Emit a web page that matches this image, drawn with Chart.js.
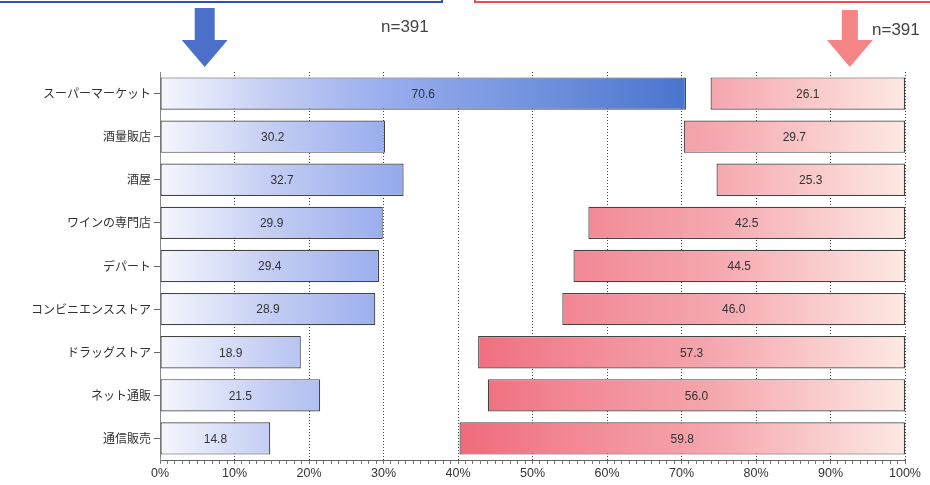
<!DOCTYPE html>
<html>
<head>
<meta charset="utf-8">
<script src="https://cdn.jsdelivr.net/npm/chart.js@4.4.1/dist/chart.umd.min.js"></script>
<style>
  html, body { margin: 0; padding: 0; background: #fff; }
</style>
</head>
<body>
<canvas id="myChart" width="930" height="485"></canvas>
<script>
// data
const categories = [
    'スーパーマーケット',
    '酒量販店',
    '酒屋',
    'ワインの専門店',
    'デパート',
    'コンビニエンスストア',
    'ドラッグストア',
    'ネット通販',
    '通信販売'
];
const blueValues = [70.6, 30.2, 32.7, 29.9, 29.4, 28.9, 18.9, 21.5, 14.8];
const redValues = [26.1, 29.7, 25.3, 42.5, 44.5, 46.0, 57.3, 56.0, 59.8];
const axisMax = 100;
const sampleLabel = 'n=391';

// red bars hang from the right edge
const redRanges = redValues.map(v => [axisMax - v, axisMax]);

const jpFont = '"Noto Sans CJK JP", "Noto Sans", sans-serif';
const numFont = '"Liberation Sans", Arial, sans-serif';

function blueFill(ctx) {
    const area = ctx.chart.chartArea;
    if (!area) return '#9db1ee';
    const g = ctx.chart.ctx.createLinearGradient(area.left, 0, area.right, 0);
    g.addColorStop(0, '#f5f7fd');
    g.addColorStop(0.15, '#c3cdf3');
    g.addColorStop(0.3, '#9aaeee');
    g.addColorStop(0.7, '#4a76ce');
    g.addColorStop(1, '#3a64c0');
    return g;
}

function redFill(ctx) {
    const area = ctx.chart.chartArea;
    if (!area) return '#f4a0a8';
    const g = ctx.chart.ctx.createLinearGradient(area.left, 0, area.right, 0);
    g.addColorStop(0.4, '#f06a7b');
    g.addColorStop(0.56, '#f28995');
    g.addColorStop(0.74, '#f5a6ae');
    g.addColorStop(1, '#fde9e3');
    return g;
}

// value text in the middle of each bar
const valueLabels = {
    id: 'valueLabels',
    afterDatasetsDraw(chart) {
        const c = chart.ctx;
        c.save();
        c.font = '12px ' + numFont;
        c.fillStyle = '#333';
        c.textAlign = 'center';
        c.textBaseline = 'middle';
        chart.data.datasets.forEach((ds, i) => {
            chart.getDatasetMeta(i).data.forEach((bar, j) => {
                const src = i === 0 ? blueValues : redValues;
                c.fillText(src[j].toFixed(1), (bar.x + bar.base) / 2, bar.y + 1);
            });
        });
        c.restore();
    }
};

// boxes, arrows and n= above the plot
const header = {
    id: 'header',
    afterDraw(chart) {
        const c = chart.ctx;
        const x = chart.scales.x;
        c.save();
        c.lineWidth = 2;
        c.strokeStyle = '#2f4fb5';
        c.strokeRect(-5, -40, 447, 42);
        c.strokeStyle = '#e8504f';
        c.strokeRect(475, -40, 470, 42);

        const arrow = (cx, top, color, sw, hw) => {
            c.fillStyle = color;
            c.beginPath();
            c.moveTo(cx - sw, top);
            c.lineTo(cx + sw, top);
            c.lineTo(cx + sw, 40);
            c.lineTo(cx + hw, 40);
            c.lineTo(cx, 67);
            c.lineTo(cx - hw, 40);
            c.lineTo(cx - sw, 40);
            c.closePath();
            c.fill();
        };
        arrow(x.getPixelForValue(6), 8, '#4c70c9', 10, 23);
        arrow(x.getPixelForValue(92.6), 10, '#f58486', 8, 23);

        c.font = '17px ' + numFont;
        c.fillStyle = '#444';
        c.textBaseline = 'middle';
        c.textAlign = 'left';
        c.fillText(sampleLabel, 381, 27);
        c.fillText(sampleLabel, 872, 30);
        c.restore();
    }
};

// config
const config = {
    type: 'bar',
    data: {
        labels: categories,
        datasets: [
            {
                label: 'blue',
                data: blueValues,
                backgroundColor: blueFill,
                borderColor: '#444',
                borderWidth: 1.2,
                borderSkipped: false
            }, {
                label: 'red',
                data: redRanges,
                backgroundColor: redFill,
                borderColor: '#444',
                borderWidth: 1.2,
                borderSkipped: false
            }
        ]
    },
    options: {
        indexAxis: 'y',
        responsive: false,
        animation: false,
        grouped: false,
        barPercentage: 0.75,
        categoryPercentage: 1,
        layout: { padding: { top: 72, right: 25, bottom: 2, left: 0 } },
        plugins: {
            legend: { display: false },
            tooltip: { enabled: false }
        },
        scales: {
            x: {
                min: 0,
                max: axisMax,
                ticks: {
                    stepSize: 1,
                    autoSkip: false,
                    maxRotation: 0,
                    padding: 2,
                    color: '#333',
                    font: { family: numFont, size: 12.5 },
                    callback: v => (v % 10 === 0 ? v + '%' : '')
                },
                grid: {
                    color: ctx => (ctx.tick && ctx.tick.value % 10 === 0 && ctx.tick.value > 0 ? '#444' : 'rgba(0,0,0,0)'),
                    tickColor: '#777',
                    tickLength: 4,
                    lineWidth: 1
                },
                border: { display: true, color: '#666', width: 1, dash: [1, 2] }
            },
            y: {
                afterFit: scale => { scale.width = 160; },
                ticks: {
                    color: '#333',
                    padding: 3,
                    font: { family: jpFont, size: 12 }
                },
                grid: {
                    display: true,
                    drawOnChartArea: false,
                    offset: false,
                    tickLength: 6,
                    color: '#666'
                },
                border: { display: true, color: '#888', width: 1 }
            }
        }
    },
    plugins: [valueLabels, header]
};

// render init block
const myChart = new Chart(document.getElementById('myChart'), config);
</script>
</body>
</html>
